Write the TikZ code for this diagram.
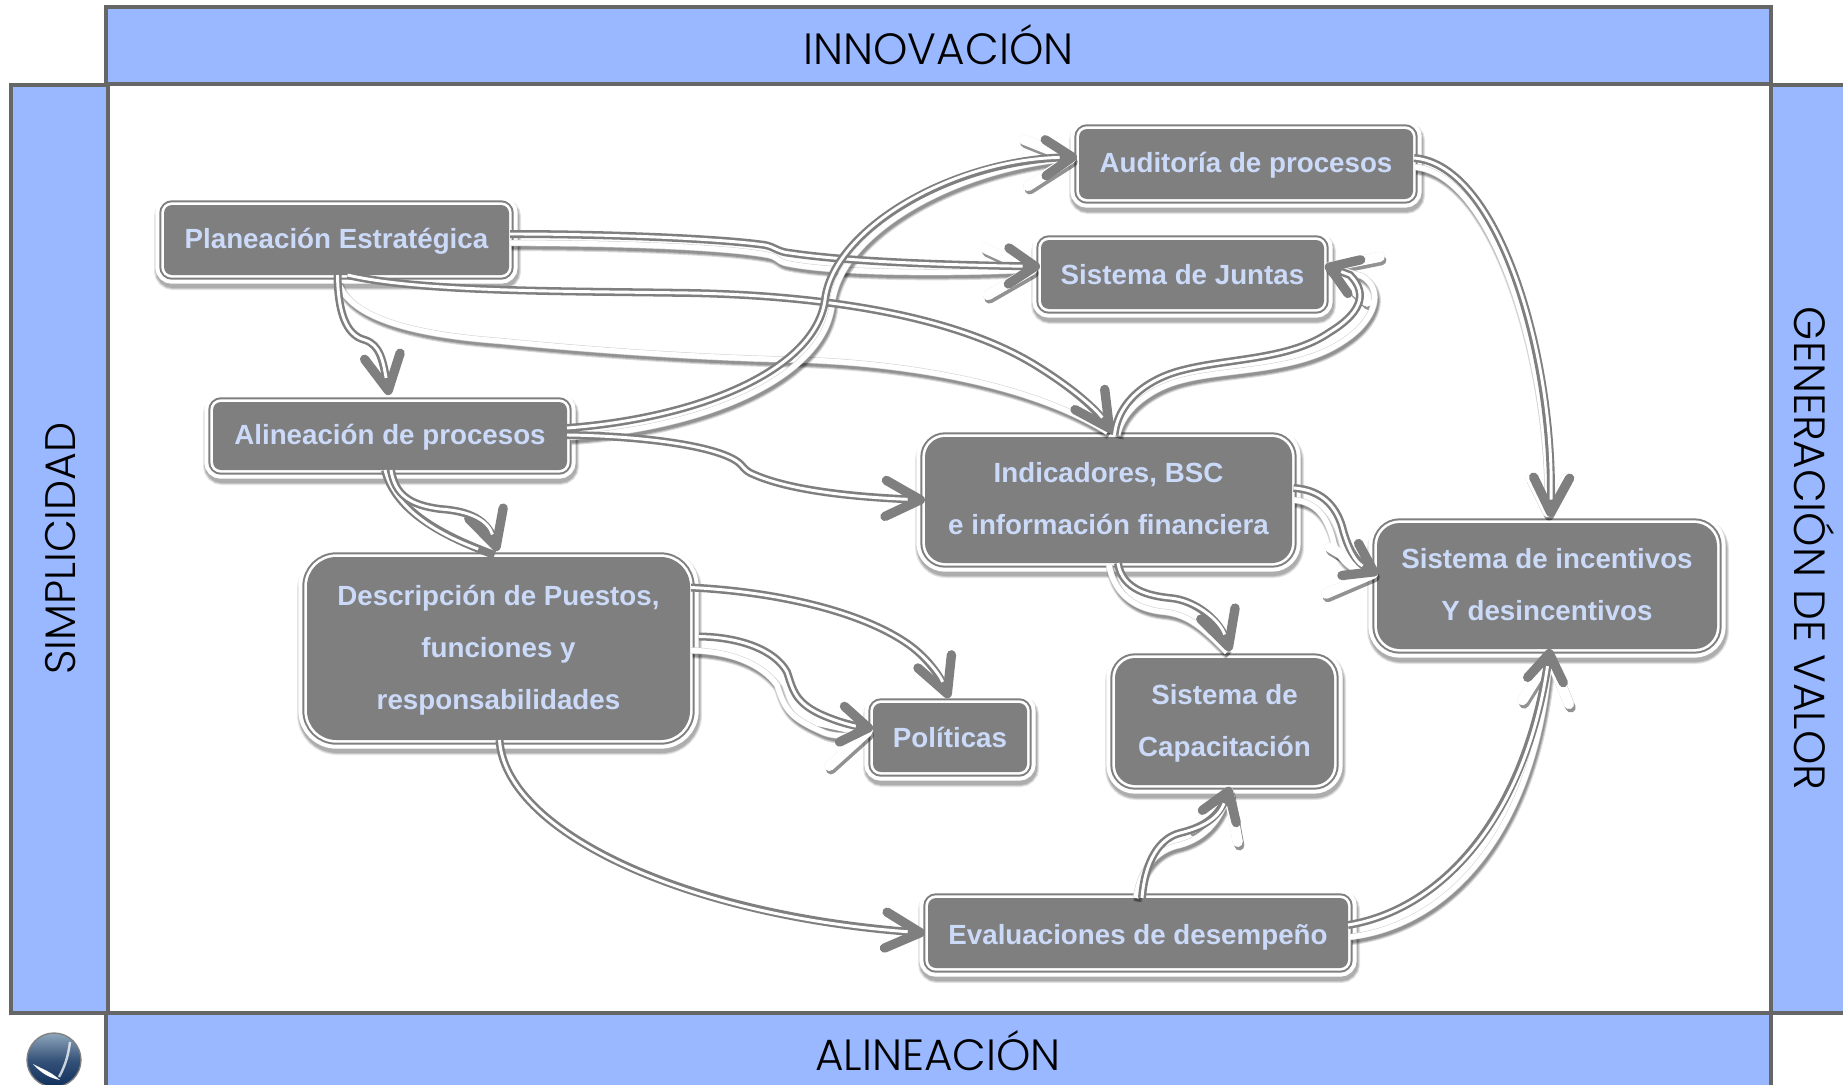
\documentclass[tikz,border=0pt]{standalone}
\usepackage{fontspec}
\usetikzlibrary{arrows.meta,calc}
\setmainfont{Liberation Sans}
\newfontfamily\barfont{Poppins Light}
\definecolor{barblue}{HTML}{99B8FF}
\definecolor{frameline}{HTML}{666666}
\definecolor{boxgray}{HTML}{7F7F7F}
\definecolor{boxtext}{HTML}{CCDAFA}
\definecolor{logotop}{HTML}{8FA6BC}
\definecolor{logobot}{HTML}{0F2F5C}
\tikzset{
  barbox/.style={rectangle,fill=barblue,draw=frameline,line width=3pt,inner sep=0pt,outer sep=0pt,text=black,font=\barfont\fontsize{32.8}{38}\selectfont},
  dims/.style 2 args={minimum width=#1*0.75pt,minimum height=#2*0.75pt},
  procbox/.style={rectangle,rounded corners=#1,fill=boxgray,text=boxtext,inner sep=0pt,outer sep=0pt,align=center,
    font=\bfseries\fontsize{20.8}{39}\selectfont,
    preaction={draw=black,opacity=.10,line width=16.5pt,transform canvas={shift={(.8pt,-3pt)}}},
    preaction={draw=black,opacity=.12,line width=15pt,transform canvas={shift={(.8pt,-3pt)}}},
    preaction={draw=black,opacity=.14,line width=13.5pt,transform canvas={shift={(.8pt,-3pt)}}},
    preaction={draw=white,line width=13pt},
    preaction={draw=boxgray,line width=7pt},
    preaction={draw=white,line width=4pt}},
  tipL/.style={-{Straight Barb[length=26pt,width=27pt,line width=7pt,round]}},
  tipS/.style={-{Straight Barb[length=20pt,width=27pt,line width=7pt,round]}},
  tipW/.style={-{Straight Barb[length=34pt,width=35pt,line width=7.5pt,round]}},
  tipN/.style={},
  linkouter/.style={draw=boxgray,line width=6pt},
  linkinner/.style={draw=white,line width=2.2pt},
  copyshade/.style={draw=black,opacity=#1,transform canvas={shift={(1.2pt,-2.6pt)}}},
  copyedge/.style={draw=black!18,line width=4.8pt},
  copyface/.style={draw=white,line width=4pt},
}
\newcommand\linkpath[2]{%
  \draw[linkouter,#1] #2;
  \draw[linkinner,shorten >=13pt] #2;}
\newcommand\copypath[2]{%
  \draw[copyshade=.14,line width=7pt,#1] #2;
  \draw[copyshade=.17,line width=5.5pt,#1] #2;
  \draw[copyshade=.20,line width=4pt,#1] #2;
  \draw[copyedge,#1] #2;
  \draw[copyface,#1] #2;}
\begin{document}
\begin{tikzpicture}[x=0.75pt,y=-0.75pt]
\useasboundingbox (0,0) rectangle (1843,1085);
\clip (0,0) rectangle (1843,1085);
% frame bars
\node[barbox,dims={1665}{77}] (topbar) at (938.5,45.5) {\rule[-2pt]{0pt}{0pt}INNOVACIÓN};
\node[barbox,dims={1665}{77},anchor=north] (botbar) at (938,1013) {\rule[-2pt]{0pt}{0pt}ALINEACIÓN};
\node[barbox,dims={97}{928},font=\barfont\fontsize{32}{38}\selectfont] (leftbar) at (59.5,548.5) {\hspace{1.5pt}\rotatebox{90}{SIMPLICIDAD}};
\node[barbox,dims={79}{928}] (rightbar) at (1810.5,548.5) {\hspace{5pt}\rotatebox{-90}{GENERACIÓN DE VALOR}};
% logo
\shade[top color=logotop,bottom color=logobot,middle color=logobot!70!logotop,draw=black!50,line width=1pt] (54,1060) circle (27);
\fill[white] (33,1064) .. controls (42,1074) and (50,1078) .. (60,1080) .. controls (50,1071) and (42,1069) .. (33,1064);
\draw[white,line width=1.8pt,opacity=.75] (70,1042) .. controls (68,1058) and (64,1068) .. (59,1077);
% boxes
\node[procbox=6pt,dims={345}{70}] (plan) at (336.5,240) {\rule{0pt}{17pt}Planeación Estratégica};
\node[procbox=6pt,dims={354}{68}] (alin) at (390,436) {\rule{0pt}{17pt}Alineación de procesos};
\node[procbox=6pt,dims={334}{70}] (audi) at (1246,164) {\rule{0pt}{17pt}Auditoría de procesos};
\node[procbox=6pt,dims={283}{69}] (junt) at (1182.5,274.5) {Sistema de Juntas};
\node[procbox=15pt,dims={367}{126}] (indi) at (1108.5,500) {Indicadores, BSC\\e información financiera\rule[-2pt]{0pt}{0pt}};
\node[procbox=22pt,dims={383}{183}] (desc) at (498.5,648.5) {\rule{0pt}{17.5pt}Descripción de Puestos,\\funciones y\\responsabilidades};
\node[procbox=6pt,dims={154}{69}] (poli) at (950,737.5) {Políticas};
\node[procbox=15pt,dims={219}{127}] (capa) at (1224.5,721.5) {\rule{0pt}{17.5pt}Sistema de\\Capacitación};
\node[procbox=6pt,dims={420}{70}] (eval) at (1138,933) {\rule{0pt}{21pt}Evaluaciones de desempeño};
\node[procbox=17pt,dims={340}{126}] (ince) at (1547,586) {Sistema de incentivos\\Y desincentivos\rule[-2.8pt]{0pt}{0pt}};
% pale copies of the connectors
\copypath{tipN}{($(plan.south)+(1,6)$) .. controls (350,320) and (420,335) .. (500,341) .. controls (590,350) and (700,358) .. (806,360) .. controls (930,365) and (1040,390) .. ($(indi.north)+(-1,-5)$)}
\copypath{tipW}{($(plan.east)+(1,3)$) .. controls (600,243) and (720,246) .. (768,255) .. controls (778,257) and (776,260) .. (785,263) .. controls (830,273) and (940,274) .. ($(junt.west)+(-4,-5)$)}
\copypath{tipW}{($(alin.east)+(3,1)$) .. controls (705,428) and (823,378) .. (832,305) .. controls (838,235) and (950,170) .. ($(audi.west)+(-3,-6)$)}
\copypath{tipW}{($(desc.east)+(1,2)$) .. controls (730,651) and (762,664) .. (777,685) .. controls (785,710) and (790,718) .. (825,733) .. controls (840,738) and (855,735) .. ($(poli.west)+(-1,-7)$)}
\copypath{tipL}{($(audi.east)+(2,3)$) .. controls (1495,175) and (1550,365) .. ($(ince.north)+(.5,-6)$)}
\copypath{tipW}{($(indi.east)+(2,0)$) .. controls (1318,502) and (1328,520) .. (1333,540) .. controls (1336,555) and (1350,572) .. ($(ince.west)+(1,-12)$)}
\copypath{tipN}{($(indi.south)+(.5,2)$) .. controls (1115,598) and (1140,610) .. (1165,612) .. controls (1190,615) and (1205,630) .. ($(capa.north)+(2.5,-6)$)}
\copypath{tipW}{($(eval.north)+(-2,0)$) .. controls (1140,870) and (1155,850) .. (1180,845) .. controls (1205,838) and (1220,820) .. ($(capa.south)+(5.5,2)$)}
\copypath{tipW}{($(eval.east)+(2,4)$) .. controls (1450,925) and (1535,830) .. ($(ince.south)+(3,3)$)}
\copypath{tipW}{($(indi.north)+(9,-2)$) .. controls (1122,410) and (1150,388) .. (1183,380) .. controls (1230,368) and (1300,372) .. (1345,340) .. controls (1375,320) and (1385,290) .. (1362,276) -- ($(junt.east)+(1,-9)$)}
% connectors
\linkpath{tipS}{($(plan.east)+(1,-6)$) .. controls (600,234) and (715,238) .. (765,245) .. controls (775,247) and (778,252) .. (790,253) .. controls (850,262) and (950,265) .. ($(junt.west)+(-1,-8)$)}
\linkpath{tipL}{($(plan.south)+(11,0)$) .. controls (420,292) and (560,291) .. (690,293) .. controls (800,295) and (950,310) .. (1040,368) .. controls (1075,390) and (1097,410) .. ($(indi.north)+(3.5,-5)$)}
\linkpath{tipL}{($(plan.south)+(1,0)$) .. controls (338,310) and (345,335) .. (365,340) .. controls (380,345) and (383,360) .. ($(alin.north)+(-1,-7)$)}
\linkpath{tipS}{($(alin.east)+(0,-8)$) .. controls (700,418) and (815,370) .. (825,300) .. controls (833,230) and (950,160) .. ($(audi.west)+(-2,-7)$)}
\linkpath{tipL}{($(alin.east)+(0,-1)$) .. controls (640,436) and (710,445) .. (735,460) .. controls (745,466) and (742,470) .. (755,475) .. controls (790,490) and (850,497) .. (indi.west)}
\linkpath{tipN}{($(alin.south)+(-5,0)$) .. controls (395,510) and (440,535) .. ($(desc.north)+(-4,-2)$)}
\linkpath{tipL}{($(alin.south)+(1,0)$) .. controls (395,495) and (410,505) .. (440,509) .. controls (470,511) and (488,520) .. ($(desc.north)+(-1,-6)$)}
\linkpath{tipL}{($(desc.east)+(1,-61)$) .. controls (780,592) and (860,612) .. (905,642) .. controls (925,655) and (940,675) .. ($(poli.north)+(-1,-5)$)}
\linkpath{tipS}{($(desc.east)+(9,-12)$) .. controls (740,637) and (775,650) .. (787,672) .. controls (793,690) and (795,702) .. (820,714) .. controls (840,723) and (855,726) .. ($(poli.west)+(0,-9)$)}
\linkpath{tipL}{($(desc.south)+(1,0)$) .. controls (505,830) and (680,915) .. ($(eval.west)+(-3,0)$)}
\linkpath{tipL}{($(audi.east)+(1,-6)$) .. controls (1500,165) and (1555,360) .. ($(ince.north)+(3.5,-6)$)}
\linkpath{tipS}{($(indi.east)+(1.5,-12)$) .. controls (1325,490) and (1338,510) .. (1343,530) .. controls (1348,548) and (1355,562) .. ($(ince.west)+(1,-12)$)}
\linkpath{tipL}{($(indi.south)+(9.5,0)$) .. controls (1122,590) and (1150,596) .. (1170,598) .. controls (1195,600) and (1220,620) .. ($(capa.north)+(5.5,-7)$)}
\linkpath{tipS}{($(eval.north)+(4,0)$) .. controls (1145,860) and (1160,838) .. (1180,833) .. controls (1200,828) and (1218,820) .. ($(capa.south)+(5.5,2)$)}
\linkpath{tipS}{($(eval.east)+(0,-8)$) .. controls (1440,910) and (1525,820) .. ($(ince.south)+(3,0)$)}
\linkpath{tipS}{($(indi.north)+(6,-2)$) .. controls (1118,400) and (1150,378) .. (1183,370) .. controls (1230,358) and (1290,360) .. (1330,332) .. controls (1358,315) and (1370,295) .. (1350,275) -- ($(junt.east)+(1,-9)$)}
\end{tikzpicture}
\end{document}
